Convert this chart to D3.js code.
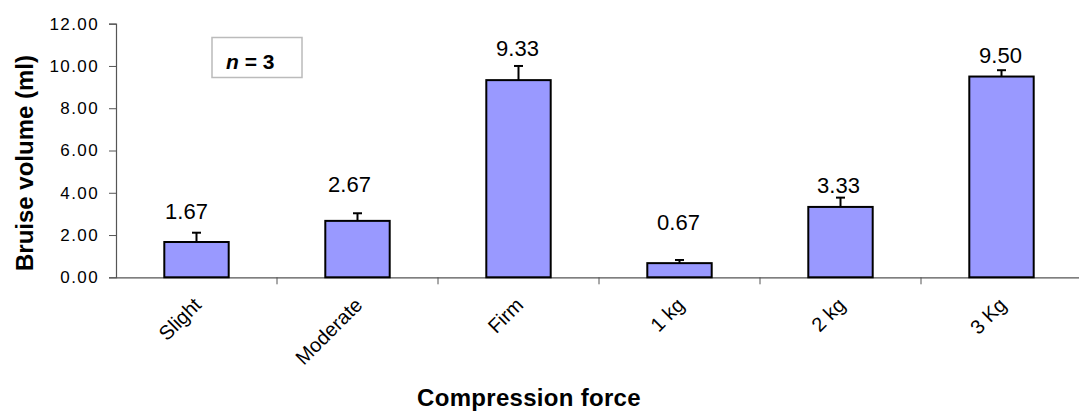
<!DOCTYPE html>
<meta charset="utf-8" />
<style>
    body { margin: 0; background: #fff; }
    text { font-family: Arial, "Liberation Sans", sans-serif; fill: #000; }
</style>
<title>Bruise volume</title>
<body></body>
<script src="https://d3js.org/d3.v7.min.js"></script>
<script>

    // data
    var categories = ["Slight", "Moderate", "Firm", "1 kg", "2 kg", "3 Kg"];
    var means = [1.67, 2.67, 9.33, 0.67, 3.33, 9.50];
    var errors = [0.44, 0.36, 0.67, 0.15, 0.44, 0.30];
    var yTicks = [0, 2, 4, 6, 8, 10, 12];

    // hand placed data labels (px): lift above bar top, shift from centre
    var labelLift = [23, 29, 24, 33, 14, 14];
    var labelShift = [-10, -8, -1, -1, -2, -1];

    var svgWidth = 1079;
    var svgHeight = 414;
    var margin = {top: 23.7, right: -3, bottom: 136.7, left: 116};
    var width = svgWidth - margin.left - margin.right;
    var height = svgHeight - margin.top - margin.bottom;

    var svg = d3.select("body")
        .append("svg")
        .attr("width", svgWidth)
        .attr("height", svgHeight);

    var g = svg.append("g")
        .attr("transform", "translate(" + margin.left + "," + margin.top + ")");

    var x = d3.scaleBand()
        .domain(categories)
        .range([0, width])
        .padding(0);

    var y = d3.scaleLinear()
        .domain([0, 12])
        .range([height, 0]);

    var barW = x.bandwidth() * 0.4;

    // y axis
    var gy = g.append("g")
        .call(d3.axisLeft(y).tickValues(yTicks).tickFormat(d3.format(".2f")).tickSize(7).tickPadding(10));
    gy.select(".domain").attr("stroke", "#555").attr("stroke-width", 1.2);
    gy.selectAll(".tick line").attr("stroke", "#555");
    gy.selectAll(".tick text")
        .style("font-size", "17px")
        .style("letter-spacing", "1.4px")
        .attr("fill", "#111");

    // x axis, ticks sit between the categories
    var gx = g.append("g")
        .attr("transform", "translate(0," + height + ")")
        .call(d3.axisBottom(x).tickSize(0).tickPadding(0));
    gx.select(".domain").attr("stroke", "#555").attr("stroke-width", 1.2);
    gx.selectAll(".tick text").remove();

    gx.selectAll(".sep")
        .data(categories.slice(0, -1))
        .enter().append("line")
        .attr("class", "sep")
        .attr("x1", function (d) { return x(d) + x.bandwidth(); })
        .attr("x2", function (d) { return x(d) + x.bandwidth(); })
        .attr("y1", 0)
        .attr("y2", 7)
        .attr("stroke", "#555");

    gx.selectAll(".cat")
        .data(categories)
        .enter().append("text")
        .attr("class", "cat")
        .attr("text-anchor", "end")
        .style("font-size", "20px")
        .attr("fill", "#111")
        .attr("transform", function (d) {
            return "translate(" + (x(d) + x.bandwidth() / 2 + 6) + ",29) rotate(-45)";
        })
        .text(function (d) { return d; });

    // bars
    g.selectAll(".bar")
        .data(means)
        .enter().append("rect")
        .attr("class", "bar")
        .attr("x", function (d, i) { return x(categories[i]) + (x.bandwidth() - barW) / 2; })
        .attr("y", function (d) { return y(d); })
        .attr("width", barW)
        .attr("height", function (d) { return height - y(d); })
        .attr("fill", "#9999ff")
        .attr("stroke", "#000")
        .attr("stroke-width", 2);

    // error bars (plus side only)
    var err = g.selectAll(".err")
        .data(means)
        .enter().append("g")
        .attr("class", "err")
        .attr("transform", function (d, i) {
            return "translate(" + (x(categories[i]) + x.bandwidth() / 2) + ",0)";
        });
    err.append("line")
        .attr("y1", function (d) { return y(d); })
        .attr("y2", function (d, i) { return y(d + errors[i]); })
        .attr("stroke", "#000")
        .attr("stroke-width", 2);
    err.append("line")
        .attr("x1", -4.5)
        .attr("x2", 4.5)
        .attr("y1", function (d, i) { return y(d + errors[i]); })
        .attr("y2", function (d, i) { return y(d + errors[i]); })
        .attr("stroke", "#000")
        .attr("stroke-width", 2);

    // value labels
    g.selectAll(".val")
        .data(means)
        .enter().append("text")
        .attr("class", "val")
        .attr("text-anchor", "middle")
        .style("font-size", "22px")
        .attr("fill", "#111")
        .attr("x", function (d, i) { return x(categories[i]) + x.bandwidth() / 2 + labelShift[i]; })
        .attr("y", function (d, i) { return y(d) - labelLift[i]; })
        .text(function (d) { return d.toFixed(2); });

    // axis titles
    svg.append("text")
        .attr("text-anchor", "middle")
        .attr("transform", "translate(33,163) rotate(-90)")
        .style("font-size", "24px")
        .style("font-weight", "bold")
        .text("Bruise volume (ml)");

    svg.append("text")
        .attr("text-anchor", "middle")
        .attr("x", 529)
        .attr("y", 406)
        .style("font-size", "24px")
        .style("font-weight", "bold")
        .style("letter-spacing", "0.3px")
        .text("Compression force");

    // n = 3 box
    var note = svg.append("g").attr("transform", "translate(212,37.5)");
    note.append("rect")
        .attr("width", 90)
        .attr("height", 40)
        .attr("fill", "#fff")
        .attr("stroke", "#bbb")
        .attr("stroke-width", 1.5);
    var nt = note.append("text")
        .attr("x", 14)
        .attr("y", 31.5)
        .style("font-size", "21px")
        .style("font-weight", "bold");
    nt.append("tspan").style("font-style", "italic").text("n");
    nt.append("tspan").text(" = 3");

</script>
